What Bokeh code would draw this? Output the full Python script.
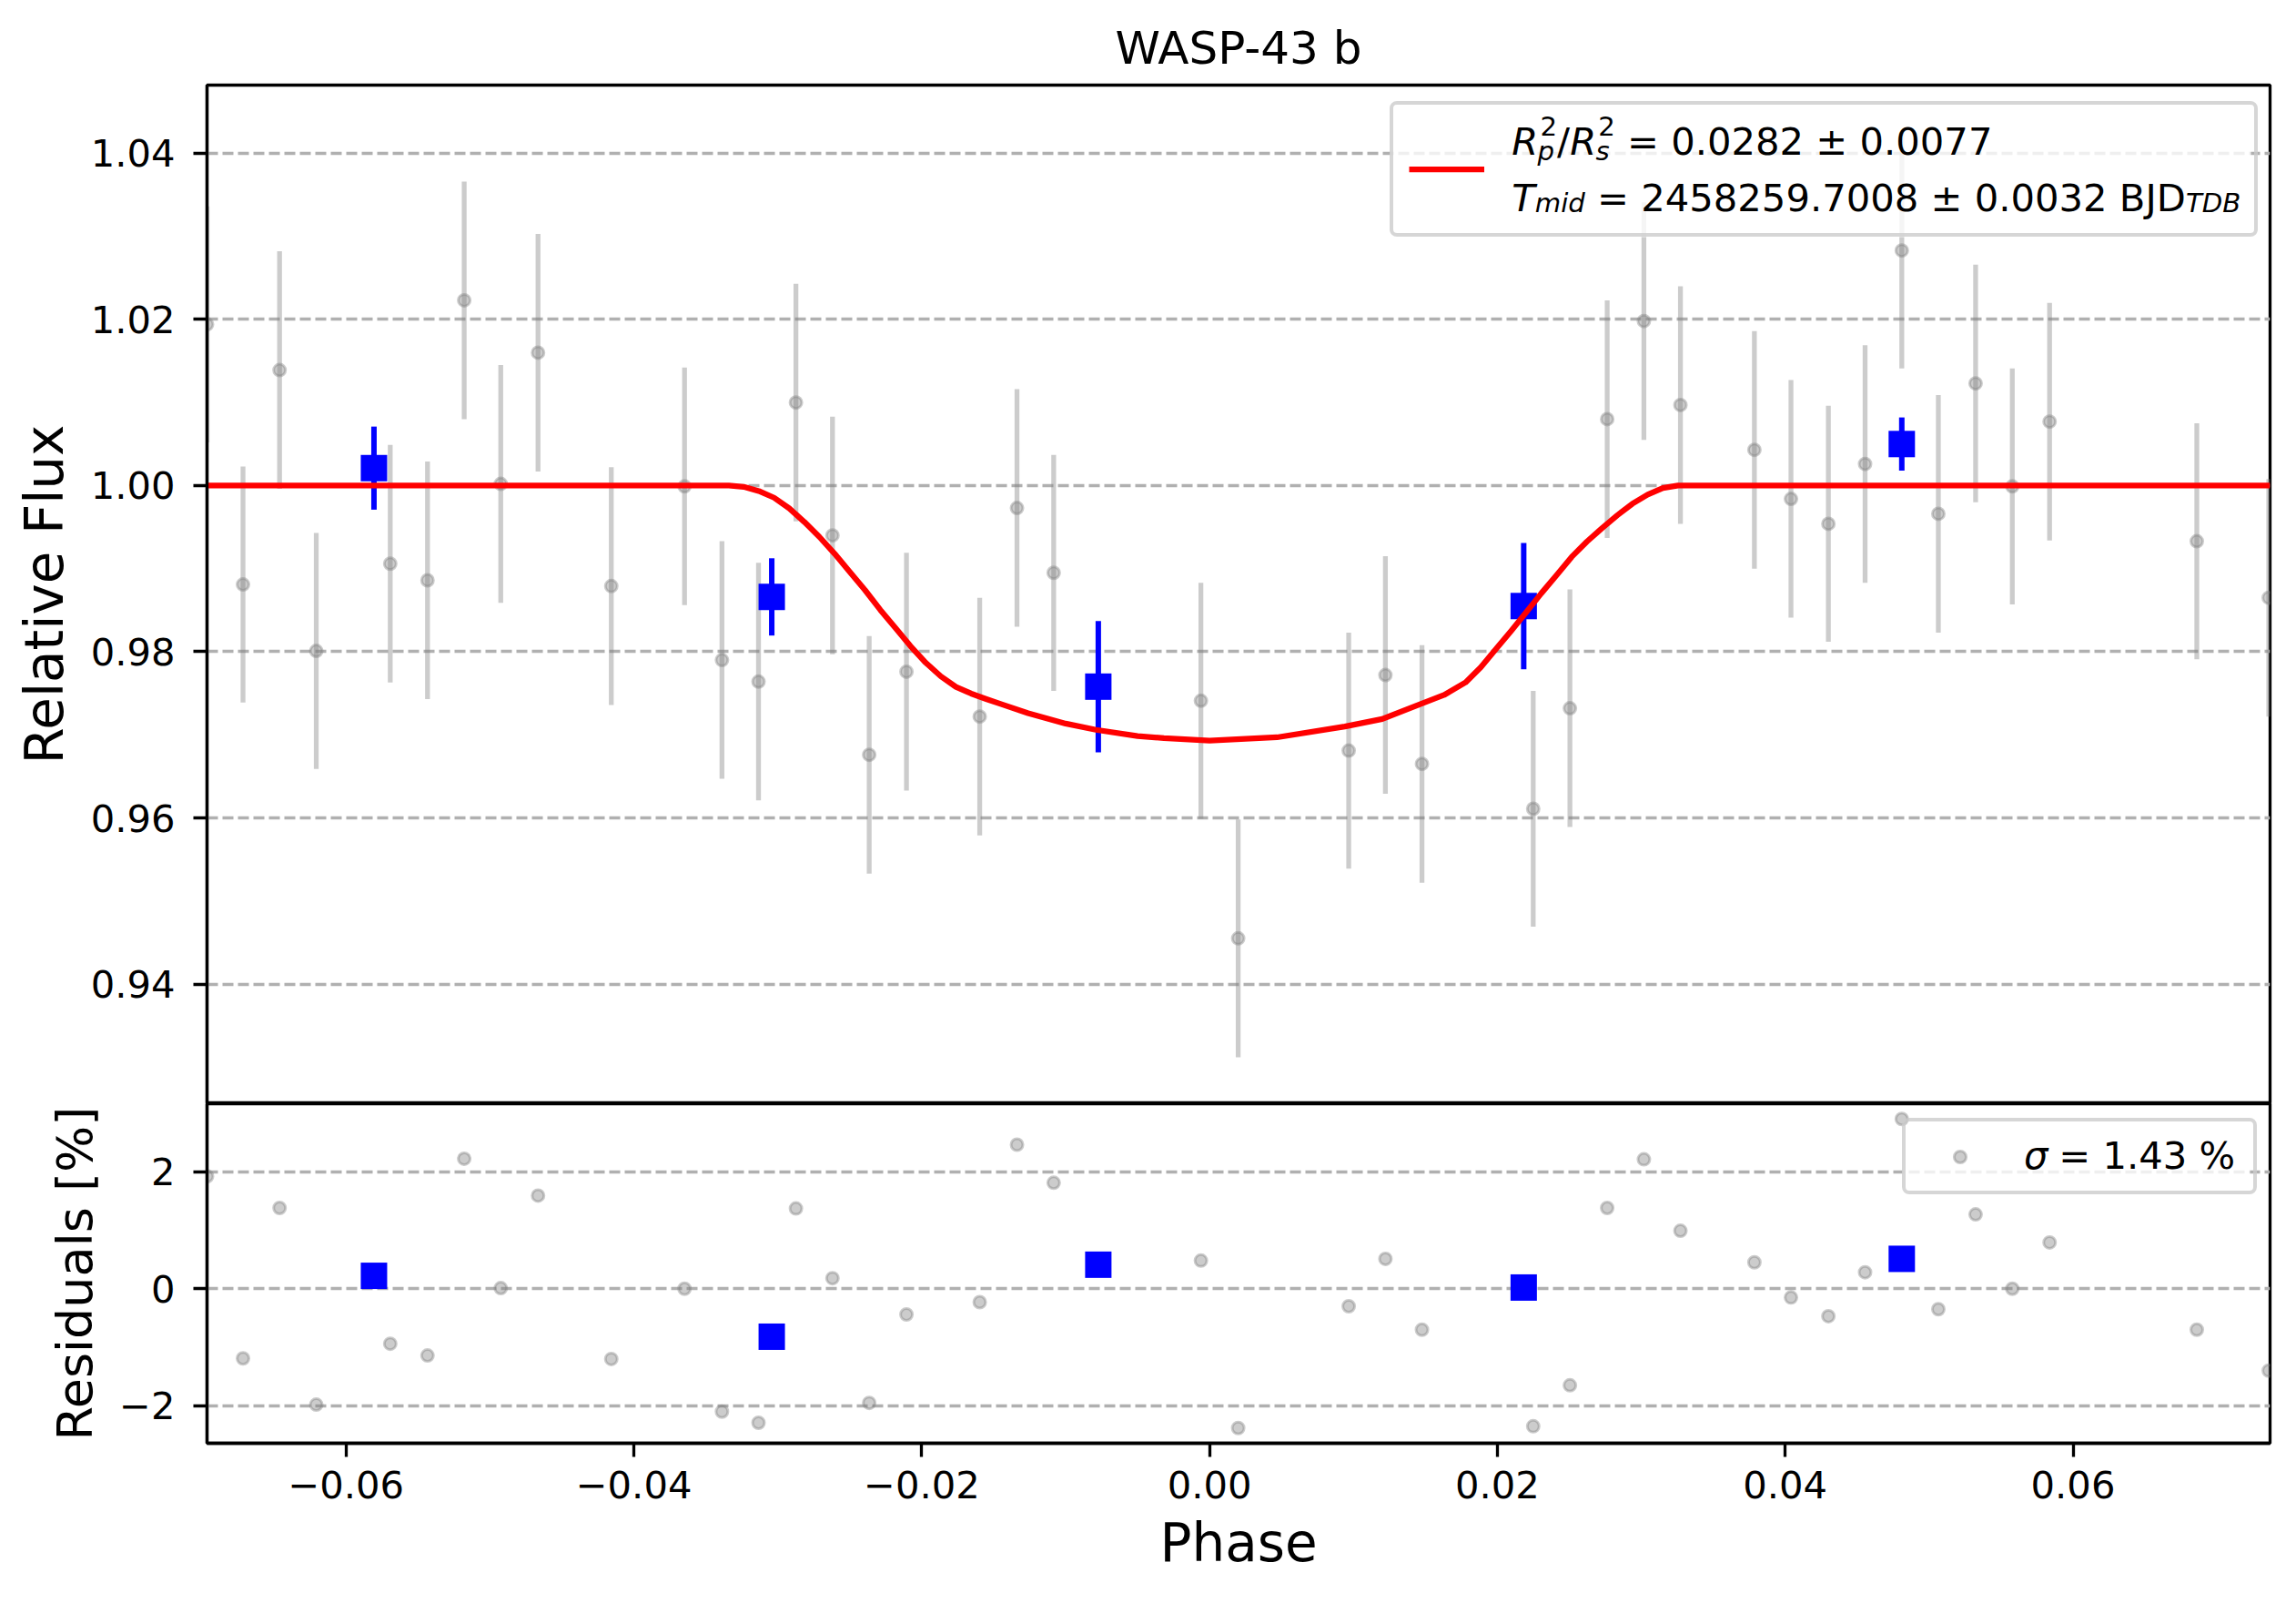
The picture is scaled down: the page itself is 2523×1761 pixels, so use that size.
from bokeh.plotting import figure
from bokeh.layouts import column
from bokeh.models import (Range1d, FixedTicker, CustomJSTickFormatter, Legend,
                          LegendItem, Label, ColumnDataSource, BoxAnnotation)
from bokeh.embed import file_html
from bokeh.resources import INLINE

# ---------------- data ----------------
phase = [-0.06966, -0.06716, -0.06462, -0.06207, -0.05693, -0.05434, -0.05179,
         -0.04925, -0.04666, -0.04157, -0.03648, -0.03388, -0.03134, -0.02874,
         -0.02620, -0.02365, -0.02106, -0.01597, -0.01338, -0.01083, -0.00060,
         0.00199, 0.00967, 0.01222, 0.01476, 0.02249, 0.02504, 0.02763, 0.03018,
         0.03272, 0.03786, 0.04040, 0.04300, 0.04555, 0.04810, 0.05064, 0.05323,
         0.05578, 0.05837, 0.06860, 0.07360]
flux = [1.0194, 0.9881, 1.0139, 0.9801, 0.9906, 0.9886, 1.0223, 1.0002, 1.0160,
        0.9879, 0.9999, 0.9790, 0.9764, 1.0100, 0.9940, 0.9676, 0.9776, 0.9722,
        0.9973, 0.9895, 0.9741, 0.9455, 0.9681, 0.9772, 0.9665, 0.9611, 0.9732,
        1.0080, 1.0198, 1.0097, 1.0043, 0.9984, 0.9954, 1.0026, 1.0283, 0.9966,
        1.0123, 0.9999, 1.0077, 0.9933, 0.9865]
flux_err = [0.0142, 0.0142, 0.0143, 0.0142, 0.0143, 0.0143, 0.0143, 0.0143, 0.0143,
            0.0143, 0.0143, 0.0143, 0.0143, 0.0143, 0.0143, 0.0143, 0.0143, 0.0143,
            0.0143, 0.0142, 0.0142, 0.0143, 0.0142, 0.0143, 0.0143, 0.0142, 0.0143,
            0.0143, 0.0143, 0.0143, 0.0143, 0.0143, 0.0142, 0.0143, 0.0142, 0.0143,
            0.0143, 0.0142, 0.0143, 0.0142, 0.0143]
resid = [1.92, -1.19, 1.38, -1.98, -0.94, -1.14, 2.22, 0.01, 1.59, -1.20, 0.00,
         -2.10, -2.29, 1.37, 0.18, -1.95, -0.44, -0.23, 2.46, 1.81, 0.48, -2.38,
         -0.30, 0.51, -0.70, -2.35, -1.65, 1.38, 2.21, 0.99, 0.45, -0.15, -0.47,
         0.28, 2.90, -0.35, 1.27, 0.00, 0.79, -0.70, -1.40]

bin_phase = [-0.05806, -0.03042, -0.00773, 0.02183, 0.04810]
bin_flux = [1.0021, 0.9866, 0.9758, 0.9855, 1.0050]
bin_err = [0.0050, 0.00465, 0.0079, 0.0076, 0.0032]
bin_resid = [0.22, -0.82, 0.41, 0.02, 0.51]

model_phase = [-0.06966, -0.0334, -0.03237, -0.03132, -0.03026, -0.02921,
               -0.02816, -0.0271, -0.02605, -0.025, -0.02394, -0.02288,
               -0.02183, -0.02078, -0.01972, -0.01867, -0.01762, -0.01656,
               -0.01551, -0.01446, -0.01261, -0.01, -0.00789, -0.005, -0.00317,
               0.0, 0.00469, 0.0094, 0.012, 0.01463, 0.0163, 0.01779, 0.01885,
               0.0199, 0.02095, 0.02201, 0.02306, 0.02412, 0.02517, 0.02622,
               0.02728, 0.02833, 0.02938, 0.03044, 0.0315, 0.03255, 0.07369]
model_flux = [1.0, 1.0, 0.99985, 0.99934, 0.99854, 0.99727, 0.99563, 0.9938,
              0.9918, 0.98961, 0.98742, 0.98505, 0.98287, 0.98068, 0.97868,
              0.97704, 0.97576, 0.97496, 0.9743, 0.97368, 0.9726, 0.97135,
              0.9706, 0.96985, 0.9696, 0.9693, 0.9697, 0.9710, 0.9719, 0.97368,
              0.9748, 0.97631, 0.97813, 0.98032, 0.9825, 0.98476, 0.98705,
              0.98924, 0.99143, 0.99325, 0.99489, 0.99642, 0.99781, 0.99891,
              0.9997, 1.0, 1.0]

x_ticks = [-0.06, -0.04, -0.02, 0.0, 0.02, 0.04, 0.06]
flux_ticks = [0.94, 0.96, 0.98, 1.00, 1.02, 1.04]
resid_ticks = [-2, 0, 2]
x_limits = (-0.06966, 0.07369)
flux_limits = (0.9256, 1.0482)
resid_limits = (-2.64, 3.16)

title_text = "WASP-43 b"
xlabel = "Phase"
ylabel_top = "Relative Flux"
ylabel_bot = "Residuals [%]"

# ---------------- styling ----------------
FONT = "DejaVu Sans"
F = 41.7          # 10 pt at 300 dpi
FS = F * 0.7      # script size
SP = 0.318 * F    # width of a space
FRAME_L = 227     # image x of frame left
TOP_BOTTOM = 1212 # image y of top-frame bottom
BOT_BOTTOM = 1585 # image y of bottom-frame bottom
LIFT = 14         # baseline correction for Label text


def style(p, yticks, fmt):
    p.outline_line_color = "black"
    p.outline_line_width = 3.3
    p.outline_line_alpha = 1.0
    p.background_fill_color = "white"
    p.border_fill_color = "white"
    p.xgrid.visible = False
    p.ygrid.grid_line_color = "#b0b0b0"
    p.ygrid.grid_line_dash = "12 5"
    p.ygrid.grid_line_width = 3.3
    p.yaxis.ticker = FixedTicker(ticks=yticks)
    p.yaxis.formatter = CustomJSTickFormatter(code=fmt)
    for ax in list(p.yaxis) + list(p.xaxis):
        ax.axis_line_width = 3.3
        ax.axis_line_color = "black"
        ax.major_tick_line_width = 3.3
        ax.major_tick_line_color = "black"
        ax.major_tick_out = 15
        ax.major_tick_in = 0
        ax.minor_tick_line_color = None
        ax.major_label_text_font = FONT
        ax.major_label_text_font_size = f"{F}px"
        ax.major_label_text_color = "black"
        ax.axis_label_text_font = FONT
        ax.axis_label_text_font_size = "58px"
        ax.axis_label_text_font_style = "normal"
        ax.axis_label_text_color = "black"
    for ax in p.yaxis:
        ax.major_label_standoff = 20
        ax.axis_label_standoff = 14
    for ax in p.xaxis:
        ax.major_label_standoff = 15
        ax.axis_label_standoff = 12


def backing(p, left, right, bottom, top):
    """white, 80 % opaque legend backing (screen units, frame relative)"""
    b = BoxAnnotation(left=left, right=right, bottom=bottom, top=top,
                      left_units="screen", right_units="screen",
                      bottom_units="screen", top_units="screen",
                      fill_color="white", fill_alpha=0.8, line_color=None,
                      level="annotation")
    try:
        b.border_radius = 8
    except Exception:
        pass
    p.add_layout(b)


xr = Range1d(*x_limits)

top = figure(frame_width=2267, frame_height=1119, x_range=xr,
             y_range=Range1d(*flux_limits), x_axis_location=None,
             toolbar_location=None, output_backend="svg",
             min_border_left=227, min_border_right=25, min_border_top=93,
             min_border_bottom=0, title=title_text)
top.title.text_font = FONT
top.title.text_font_size = "50px"
top.title.text_font_style = "normal"
top.title.align = "center"
top.title.text_color = "black"
top.title.standoff = 23
style(top, flux_ticks, "return tick.toFixed(2).replace('-', '\\u2212');")
top.yaxis.axis_label = ylabel_top

src = ColumnDataSource(dict(phase=phase, flux=flux,
                            lo=[f - e for f, e in zip(flux, flux_err)],
                            hi=[f + e for f, e in zip(flux, flux_err)],
                            resid=resid))
bsrc = ColumnDataSource(dict(phase=bin_phase, flux=bin_flux,
                             lo=[f - e for f, e in zip(bin_flux, bin_err)],
                             hi=[f + e for f, e in zip(bin_flux, bin_err)],
                             resid=bin_resid))

top.segment(x0="phase", y0="lo", x1="phase", y1="hi", source=src,
            line_color="gray", line_alpha=0.4, line_width=5.3)
top.scatter("phase", "flux", source=src, marker="circle", size=13,
            fill_color="gray", fill_alpha=0.4, line_color="gray",
            line_alpha=0.4, line_width=3)
top.segment(x0="phase", y0="lo", x1="phase", y1="hi", source=bsrc,
            line_color="blue", line_width=6)
top.scatter("phase", "flux", source=bsrc, marker="square", size=29,
            fill_color="blue", line_color=None)
model_r = top.line(model_phase, model_flux, line_color="red", line_width=6.25,
                   line_join="round")

backing(top, 1300, 2246, 952, 1092)
leg = Legend(items=[LegendItem(label=" ", renderers=[model_r])],
             location=(1300, 952), glyph_width=83, glyph_height=107,
             label_height=107, label_width=829, label_standoff=0, padding=17,
             margin=0, spacing=0, border_line_color="#cccccc",
             border_line_width=4, border_line_alpha=0.8,
             background_fill_alpha=0.0,
             label_text_font_size=f"{F}px")
try:
    leg.border_radius = 8
except Exception:
    pass
top.add_layout(leg)


def txt(p, x_img, y_img, bottom, text, size, italic=False):
    p.add_layout(Label(x=x_img - FRAME_L, y=bottom - y_img + LIFT,
                       x_units="screen", y_units="screen", text=text,
                       text_font=FONT, text_font_size=f"{size:.1f}px",
                       text_font_style="italic" if italic else "normal",
                       text_baseline="alphabetic", text_align="left",
                       text_color="black", level="overlay"))


# legend line 1:  R_p^2 / R_s^2 = 0.0282 ± 0.0077
b1, b2 = 169, 231
txt(top, 1660.7, b1, TOP_BOTTOM, "R", F, True)
txt(top, 1692.0, b1 - 17, TOP_BOTTOM, "2", FS)
txt(top, 1689.0, b1 + 10, TOP_BOTTOM, "p", FS, True)
txt(top, 1710.6, b1, TOP_BOTTOM, "/", F)
txt(top, 1724.7, b1, TOP_BOTTOM, "R", F, True)
txt(top, 1755.7, b1 - 17, TOP_BOTTOM, "2", FS)
txt(top, 1753.0, b1 + 10, TOP_BOTTOM, "s", FS, True)
txt(top, 1774.3 + SP, b1, TOP_BOTTOM, "= 0.0282 \u00b1 0.0077", F)
# legend line 2:  T_mid = 2458259.7008 ± 0.0032 BJD_TDB
txt(top, 1660.7, b2, TOP_BOTTOM, "T", F, True)
txt(top, 1686.2, b2 + 5, TOP_BOTTOM, "mid", FS, True)
txt(top, 1741.3 + SP, b2, TOP_BOTTOM, "= 2458259.7008 \u00b1 0.0032 BJD", F)
txt(top, 2401.4, b2 + 5, TOP_BOTTOM, "TDB", FS, True)

# ---------------- residual panel ----------------
bot = figure(frame_width=2267, frame_height=373, x_range=xr,
             y_range=Range1d(*resid_limits), toolbar_location=None,
             output_backend="svg", min_border_left=227, min_border_right=25,
             min_border_top=0, min_border_bottom=170)
style(bot, resid_ticks, "return tick.toFixed(0).replace('-', '\\u2212');")
bot.xaxis.ticker = FixedTicker(ticks=x_ticks)
bot.xaxis.formatter = CustomJSTickFormatter(
    code="return tick.toFixed(2).replace('-', '\\u2212');")
bot.xaxis.axis_label = xlabel
bot.yaxis.axis_label = ylabel_bot
bot.yaxis.axis_label_text_font_size = "54px"

res_r = bot.scatter("phase", "resid", source=src, marker="circle", size=13,
                    fill_color="gray", fill_alpha=0.4, line_color="gray",
                    line_alpha=0.4, line_width=3)
bot.scatter("phase", "resid", source=bsrc, marker="square", size=29,
            fill_color="blue", line_color=None)

backing(bot, 1863, 2245, 273, 349)
leg2 = Legend(items=[LegendItem(label=" ", renderers=[res_r], index=0)],
              location=(1863, 273), glyph_width=83, glyph_height=33,
              label_height=40, label_width=263, label_standoff=0, padding=18,
              margin=0, spacing=0, border_line_color="#cccccc",
              border_line_width=4, border_line_alpha=0.8,
              background_fill_alpha=0.0,
              label_text_font_size=f"{F}px")
try:
    leg2.border_radius = 8
except Exception:
    pass
bot.add_layout(leg2)
txt(bot, 2223.5, 1283, BOT_BOTTOM, "\u03c3", F, True)
txt(bot, 2248.6 + SP, 1283, BOT_BOTTOM, "= 1.43 %", F)

layout = column(top, bot)
open("out.html", "w").write(file_html(layout, INLINE))
